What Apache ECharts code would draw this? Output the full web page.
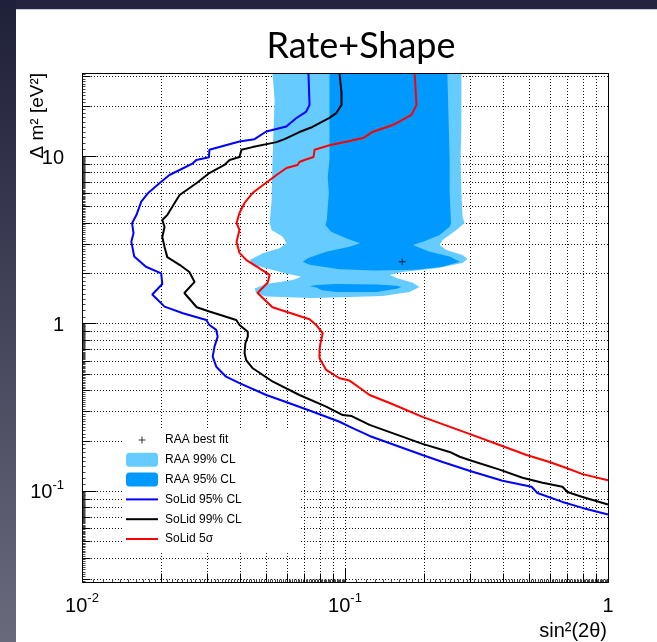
<!DOCTYPE html>
<html>
<head>
<meta charset="utf-8">
<script src="https://cdn.jsdelivr.net/npm/echarts@6/dist/echarts.min.js"></script>
<style>
  html, body { margin: 0; padding: 0; background: #fff; }
  #chart { width: 657px; height: 642px; }
</style>
</head>
<body>
<div id="chart"></div>
<script>
// Axis ranges: sin^2(2θ) on x, Δm^2 [eV^2] on y (both logarithmic)
const X_MIN = 0.01, X_MAX = 1;
const Y_MIN = 0.0286, Y_MAX = 31.3;

// Grid / tick values
const xMajor = [0.01, 0.1, 1];
const xMinor = [0.02, 0.03, 0.04, 0.05, 0.06, 0.07, 0.08, 0.09, 0.2, 0.3, 0.4, 0.5, 0.6, 0.7, 0.8, 0.9];
const yMajor = [0.1, 1, 10];
const yMinor = [0.03, 0.04, 0.05, 0.06, 0.07, 0.08, 0.09, 0.2, 0.3, 0.4, 0.5, 0.6, 0.7, 0.8, 0.9,
                2, 3, 4, 5, 6, 7, 8, 9, 20, 30];

// RAA best fit point
const raaBestFit = [[0.165, 2.34]];

// RAA 99% CL allowed region
const raa99 = [
  [0.0530, 31.3], [0.0540, 21.6], [0.0530, 9.46], [0.0526, 5.46], [0.0517, 3.98], [0.0526, 3.62],
  [0.0580, 3.30], [0.0598, 3.01], [0.0564, 2.81], [0.0487, 2.63], [0.0434, 2.39], [0.0446, 2.24],
  [0.0502, 2.14], [0.0598, 1.99], [0.0682, 1.90], [0.0633, 1.82], [0.0502, 1.72], [0.0453, 1.62],
  [0.0460, 1.51], [0.0502, 1.45], [0.0752, 1.42], [0.104, 1.44], [0.139, 1.46], [0.176, 1.54],
  [0.192, 1.65], [0.181, 1.75], [0.157, 1.87], [0.148, 1.95], [0.165, 2.03], [0.223, 2.14],
  [0.280, 2.30], [0.292, 2.43], [0.280, 2.56], [0.243, 2.75], [0.229, 2.94], [0.235, 3.15],
  [0.265, 3.62], [0.285, 3.98], [0.280, 4.32], [0.277, 6.01], [0.275, 9.46], [0.277, 14.9],
  [0.277, 31.3]
];

// RAA 95% CL allowed region (main band and the small island below it)
const raa95 = [
  [0.0873, 31.3], [0.0873, 9.46], [0.0860, 7.52], [0.0868, 5.99], [0.0853, 4.15], [0.0843, 3.87],
  [0.0886, 3.53], [0.101, 3.23], [0.114, 3.01], [0.104, 2.87], [0.0848, 2.68], [0.0722, 2.45],
  [0.0691, 2.34], [0.0733, 2.24], [0.0953, 2.11], [0.131, 2.07], [0.187, 2.09], [0.235, 2.18],
  [0.273, 2.34], [0.250, 2.51], [0.210, 2.68], [0.181, 2.94], [0.198, 3.08], [0.229, 3.38],
  [0.250, 3.78], [0.253, 3.97], [0.250, 5.99], [0.250, 9.46], [0.245, 31.3]
];
const raa95Island = [
  [0.0733, 1.67], [0.0779, 1.64], [0.0814, 1.58], [0.0928, 1.54], [0.132, 1.54], [0.157, 1.61],
  [0.164, 1.65], [0.157, 1.68], [0.132, 1.71], [0.0928, 1.72], [0.0779, 1.70]
];

// SoLid sensitivity contours
const solid95 = [
  [0.0726, 31.3], [0.0733, 20.2], [0.0712, 18.4], [0.0652, 16.8], [0.0598, 15.0], [0.0502, 14.0],
  [0.0453, 12.6], [0.0397, 12.2], [0.0305, 10.9], [0.0304, 9.82], [0.0272, 9.46], [0.0264, 9.04],
  [0.0235, 8.25], [0.0215, 7.70], [0.0197, 6.87], [0.0178, 5.99], [0.0168, 5.34], [0.0161, 4.44],
  [0.0155, 3.97], [0.0157, 3.46], [0.0154, 3.08], [0.0158, 2.51], [0.0175, 2.18], [0.0200, 1.99],
  [0.0202, 1.72], [0.0185, 1.49], [0.0206, 1.26], [0.0242, 1.15], [0.0297, 1.05], [0.0305, 0.98],
  [0.0324, 0.915], [0.0328, 0.834], [0.0319, 0.727], [0.0314, 0.634], [0.0324, 0.552], [0.0353, 0.481],
  [0.0397, 0.440], [0.0502, 0.374], [0.0615, 0.334], [0.0755, 0.297], [0.0953, 0.259], [0.104, 0.242],
  [0.124, 0.213], [0.197, 0.164], [0.235, 0.149], [0.297, 0.132], [0.397, 0.115], [0.512, 0.106],
  [0.539, 0.0973], [0.671, 0.0860], [0.800, 0.0792], [1.0, 0.0724]
];
const solid99 = [
  [0.0953, 31.3], [0.0970, 23.8], [0.0970, 20.2], [0.0928, 18.1], [0.0873, 16.9], [0.0752, 14.9],
  [0.0671, 13.9], [0.0589, 12.6], [0.0549, 12.1], [0.0445, 11.3], [0.0404, 10.9], [0.0397, 9.86],
  [0.0364, 9.46], [0.0348, 8.84], [0.0305, 7.91], [0.0273, 6.90], [0.0235, 5.85], [0.0225, 5.24],
  [0.0211, 4.44], [0.0202, 4.15], [0.0206, 3.77], [0.0202, 3.28], [0.0206, 2.86], [0.0211, 2.49],
  [0.0235, 2.24], [0.0256, 2.03], [0.0268, 1.77], [0.0245, 1.52], [0.0273, 1.25], [0.0305, 1.18],
  [0.0386, 1.05], [0.0397, 0.98], [0.0427, 0.893], [0.0427, 0.834], [0.0418, 0.762], [0.0415, 0.664],
  [0.0421, 0.605], [0.0446, 0.540], [0.0532, 0.449], [0.0671, 0.374], [0.0848, 0.319], [0.0981, 0.284],
  [0.106, 0.280], [0.124, 0.248], [0.197, 0.191], [0.250, 0.171], [0.273, 0.160], [0.305, 0.151],
  [0.387, 0.134], [0.473, 0.120], [0.564, 0.112], [0.671, 0.106], [0.701, 0.0986], [0.800, 0.0921],
  [1.0, 0.0831]
];
const solid5sigma = [
  [0.184, 31.3], [0.187, 20.2], [0.179, 17.6], [0.152, 15.3], [0.127, 13.9], [0.117, 12.8],
  [0.104, 12.3], [0.0873, 11.6], [0.0766, 10.9], [0.0759, 9.86], [0.0701, 9.46], [0.0671, 9.21],
  [0.0660, 8.84], [0.0599, 8.48], [0.0549, 7.70], [0.0494, 6.80], [0.0445, 6.01], [0.0415, 5.24],
  [0.0397, 4.57], [0.0387, 3.98], [0.0397, 3.62], [0.0387, 3.07], [0.0397, 2.64], [0.0422, 2.39],
  [0.0465, 2.17], [0.0517, 1.95], [0.0508, 1.75], [0.0465, 1.52], [0.0530, 1.25], [0.0615, 1.16],
  [0.0733, 1.06], [0.0777, 0.98], [0.0823, 0.874], [0.0807, 0.765], [0.0800, 0.695], [0.0800, 0.620],
  [0.0848, 0.528], [0.0953, 0.471], [0.104, 0.456], [0.114, 0.412], [0.124, 0.374], [0.148, 0.335],
  [0.197, 0.277], [0.297, 0.219], [0.387, 0.188], [0.490, 0.164], [0.599, 0.149], [0.695, 0.137],
  [0.800, 0.126], [1.0, 0.116]
];

const LIGHT = '#66ccff', DARK = '#0099ff';
const FONT = 'Liberation Sans';

const chart = echarts.init(document.getElementById('chart'), null, { renderer: 'canvas' });

const px = v => Math.round(v) + 0.5;

// Third-level ticks: 1.1, 1.2, ... 9.9 of each decade
function fineTicks(lo, hi) {
  const out = [];
  for (let e = -3; e <= 2; e++) {
    const d = Math.pow(10, e);
    for (let n = 11; n < 100; n++) {
      if (n % 10 === 0) continue;
      const v = n / 10 * d;
      if (v > lo && v < hi) out.push(v);
    }
  }
  return out;
}

function renderGrid(params, api) {
  if (params.dataIndex !== 0) return;
  const bl = api.coord([X_MIN, Y_MIN]);
  const tr = api.coord([X_MAX, Y_MAX]);
  const style = { stroke: '#1a1a1a', lineWidth: 1, lineDash: [1, 2] };
  const children = [];
  xMajor.concat(xMinor).forEach(v => {
    const x = px(api.coord([v, Y_MIN])[0]);
    children.push({ type: 'line', shape: { x1: x, y1: tr[1], x2: x, y2: bl[1] }, style });
  });
  yMajor.concat(yMinor).forEach(v => {
    const y = px(api.coord([X_MIN, v])[1]);
    children.push({ type: 'line', shape: { x1: bl[0], y1: y, x2: tr[0], y2: y }, style });
  });
  return { type: 'group', children };
}

function renderFrame(params, api) {
  if (params.dataIndex !== 0) return;
  const bl = api.coord([X_MIN, Y_MIN]);
  const tr = api.coord([X_MAX, Y_MAX]);
  const x0 = px(bl[0]), y0 = px(bl[1]), x1 = px(tr[0]), y1 = px(tr[1]);
  const st = { stroke: '#000', lineWidth: 1 };
  const fine = { stroke: '#444', lineWidth: 1 };
  const children = [];
  const tickX = (v, len, s) => {
    const x = px(api.coord([v, Y_MIN])[0]);
    children.push({ type: 'line', shape: { x1: x, y1: y0, x2: x, y2: y0 - len }, style: s });
  };
  const tickY = (v, len, s) => {
    const y = px(api.coord([X_MIN, v])[1]);
    children.push({ type: 'line', shape: { x1: x0, y1: y, x2: x0 + len, y2: y }, style: s });
  };
  fineTicks(X_MIN, X_MAX).forEach(v => tickX(v, 3, fine));
  fineTicks(Y_MIN, Y_MAX).forEach(v => tickY(v, 3, fine));
  xMajor.forEach(v => tickX(v, 14, st));
  xMinor.forEach(v => tickX(v, 9, st));
  yMajor.forEach(v => tickY(v, 14, st));
  yMinor.forEach(v => tickY(v, 8, st));
  children.push({ type: 'rect', shape: { x: x0, y: y1, width: x1 - x0, height: y0 - y1 },
                  style: { fill: null, stroke: '#000', lineWidth: 1 } });
  return { type: 'group', children };
}

function polygonRenderer(polys, color) {
  return function (params, api) {
    if (params.dataIndex !== 0) return;
    return {
      type: 'group',
      children: polys.map(poly => ({
        type: 'polygon',
        shape: { points: poly.map(p => api.coord(p)) },
        style: { fill: color, stroke: null }
      }))
    };
  };
}

function logLabel(v) {
  const e = Math.round(Math.log10(v));
  if (Math.abs(Math.log10(v) - e) > 1e-6) return '';
  if (e === 0) return '{b|1}';
  if (e === 1) return '{b|10}';
  return '{b|10}{s|' + e + '}';
}
const labelRich = {
  b: { fontFamily: FONT, fontSize: 20, color: '#000', lineHeight: 24, verticalAlign: 'bottom' },
  s: { fontFamily: FONT, fontSize: 13, color: '#000', lineHeight: 24, verticalAlign: 'top' }
};

// Legend / marker glyphs (bounding box padded so the glyph keeps its size)
const PLUS = 'path://M0,0L0,0M14,14L14,14M6.5,3.5h1v7h-1zM3.5,6.5h7v1h-7z';
const LINE_ICON = 'path://M0,0L0,0M32,14L32,14M0,6h32v2h-32z';

chart.setOption({
  animation: false,
  backgroundColor: '#ffffff',
  grid: { left: 82, top: 73, width: 526, height: 509, show: false },
  xAxis: {
    type: 'log', logBase: 10, min: X_MIN, max: X_MAX,
    axisLine: { show: false }, axisTick: { show: false }, splitLine: { show: false },
    axisLabel: { formatter: logLabel, rich: labelRich, margin: 10, showMinLabel: true, showMaxLabel: true }
  },
  yAxis: {
    type: 'log', logBase: 10, min: Y_MIN, max: Y_MAX,
    axisLine: { show: false }, axisTick: { show: false }, splitLine: { show: false },
    axisLabel: { formatter: logLabel, rich: labelRich, margin: 18 }
  },
  legend: {
    orient: 'vertical', left: 122, top: 428,
    itemWidth: 32, itemHeight: 14, itemGap: 5.8,
    padding: [5, 58, 6, 4],
    backgroundColor: '#ffffff',
    textStyle: { fontFamily: FONT, fontSize: 12, color: '#000', padding: [0, 0, 0, 2] },
    data: [
      { name: 'RAA best fit', icon: PLUS },
      { name: 'RAA 99% CL', icon: 'roundRect' },
      { name: 'RAA 95% CL', icon: 'roundRect' },
      { name: 'SoLid 95% CL', icon: LINE_ICON },
      { name: 'SoLid 99% CL', icon: LINE_ICON },
      { name: 'SoLid 5σ', icon: LINE_ICON }
    ]
  },
  graphic: [
    { type: 'rect', shape: { x: 0, y: 0, width: 657, height: 9 }, style: { fill: '#23243d' }, silent: true },
    { type: 'rect', shape: { x: 0, y: 9, width: 657, height: 1 }, style: { fill: '#c9cad2' }, silent: true },
    { type: 'rect', shape: { x: 0, y: 0, width: 16, height: 642 }, silent: true,
      style: { fill: new echarts.graphic.LinearGradient(0, 0, 0, 1, [
        { offset: 0, color: '#1f2039' }, { offset: 1, color: '#696a7c' }]) } },
    { type: 'text', x: 361, y: 46, silent: true,
      style: { text: 'Rate+Shape', font: '36px Lato', fill: '#000', textAlign: 'center', textVerticalAlign: 'middle' } },
    { type: 'text', x: 38, y: 73, rotation: Math.PI / 2, silent: true,
      style: { text: 'Δ m² [eV²]', font: '19px "Liberation Sans"', fill: '#000', textAlign: 'right', textVerticalAlign: 'middle' } },
    { type: 'text', x: 607, y: 631, silent: true,
      style: { text: 'sin²(2θ)', font: '20px "Liberation Sans"', fill: '#000', textAlign: 'right', textVerticalAlign: 'middle' } }
  ],
  series: [
    { name: 'grid', type: 'custom', z: 1, silent: true, data: [[X_MIN, Y_MIN]], renderItem: renderGrid },
    { name: 'RAA 99% CL', type: 'custom', z: 2, silent: true, itemStyle: { color: LIGHT },
      data: raa99, renderItem: polygonRenderer([raa99], LIGHT) },
    { name: 'RAA 95% CL', type: 'custom', z: 2, silent: true, itemStyle: { color: DARK },
      data: raa95, renderItem: polygonRenderer([raa95, raa95Island], DARK) },
    { name: 'SoLid 95% CL', type: 'line', z: 3, data: solid95, symbol: 'none',
      lineStyle: { color: '#0000ff', width: 2 }, itemStyle: { color: '#0000ff' } },
    { name: 'SoLid 99% CL', type: 'line', z: 3, data: solid99, symbol: 'none',
      lineStyle: { color: '#000000', width: 2 }, itemStyle: { color: '#000000' } },
    { name: 'SoLid 5σ', type: 'line', z: 3, data: solid5sigma, symbol: 'none',
      lineStyle: { color: '#ff0000', width: 2 }, itemStyle: { color: '#ff0000' } },
    { name: 'RAA best fit', type: 'scatter', z: 4, data: raaBestFit, symbol: PLUS, symbolSize: 14,
      itemStyle: { color: '#000' } },
    { name: 'frame', type: 'custom', z: 6, silent: true, data: [[X_MIN, Y_MIN]], renderItem: renderFrame }
  ]
});
</script>
</body>
</html>
